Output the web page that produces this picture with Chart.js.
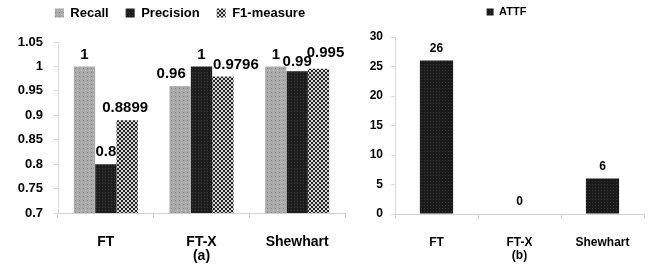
<!DOCTYPE html>
<html>
<head>
<meta charset="utf-8">
<script src="https://cdn.jsdelivr.net/npm/chart.js@4.4.1/dist/chart.umd.min.js"></script>
<style>
  html, body { margin: 0; padding: 0; background: #fff; }
  body { width: 654px; height: 272px; position: relative; overflow: hidden; }
  .panel { position: absolute; top: 0; }
</style>
</head>
<body>
<div class="panel" style="left:15px"><canvas id="metricsChart" width="351" height="272"></canvas></div>
<div class="panel" style="left:369px"><canvas id="attfChart" width="285" height="272"></canvas></div>
<script>
const methods = ['FT', 'FT-X', 'Shewhart'];
const recall = [1, 0.96, 1];
const precision = [0.8, 1, 0.99];
const f1Measure = [0.8899, 0.9796, 0.995];
const attf = [26, 0, 6];
const metricTicks = [0.7, 0.75, 0.8, 0.85, 0.9, 0.95, 1, 1.05];
const attfTicks = [0, 5, 10, 15, 20, 25, 30];

const fontFamily = '"Liberation Sans", Arial, sans-serif';
Chart.defaults.font.family = fontFamily;
Chart.defaults.color = '#000';

// small repeating tiles to imitate the printed bar textures
function makePattern(size, base, spots) {
  const tile = document.createElement('canvas');
  tile.width = tile.height = size;
  const g = tile.getContext('2d');
  g.fillStyle = base;
  g.fillRect(0, 0, size, size);
  spots.forEach(([x, y, w, h, color]) => {
    g.fillStyle = color;
    g.fillRect(x, y, w, h);
  });
  return g.createPattern(tile, 'repeat');
}

const recallFill = makePattern(4, '#aaaaaa', [[0, 0, 1, 1, '#858585'], [2, 2, 1, 1, '#c6c6c6']]);
const precisionFill = makePattern(3, '#1d1d1d', [[0, 0, 1, 1, '#3d3d3d']]);
const f1Fill = makePattern(4, '#262626', [[0, 0, 2, 2, '#d4d4d4'], [2, 2, 2, 2, '#d4d4d4']]);
const attfFill = makePattern(3, '#1a1a1a', [[1, 1, 1, 1, '#383838']]);

// value text above every bar
const valueLabels = {
  id: 'valueLabels',
  afterDatasetsDraw(chart, args, opts) {
    const ctx = chart.ctx;
    ctx.save();
    ctx.font = `bold ${opts.size}px ${fontFamily}`;
    ctx.fillStyle = '#000';
    ctx.textAlign = 'center';
    ctx.textBaseline = 'middle';
    chart.data.datasets.forEach((ds, i) => {
      chart.getDatasetMeta(i).data.forEach((bar, j) => {
        const nudge = (opts.nudge && opts.nudge[i] && opts.nudge[i][j]) || [0, 0];
        ctx.fillText(String(ds.data[j]), bar.x + nudge[0], bar.y - opts.gap + nudge[1]);
      });
    });
    ctx.restore();
  }
};

function axisLabels(caption) {
  return methods.map((m, i) => i === 1 ? [m, caption] : m);
}

new Chart(document.getElementById('metricsChart'), {
  type: 'bar',
  data: {
    labels: axisLabels('(a)'),
    datasets: [
      { label: 'Recall', data: recall, backgroundColor: recallFill },
      { label: 'Precision', data: precision, backgroundColor: precisionFill },
      { label: 'F1-measure', data: f1Measure, backgroundColor: f1Fill }
    ]
  },
  options: {
    responsive: false,
    animation: false,
    datasets: { bar: { borderWidth: 0, categoryPercentage: 0.67, barPercentage: 1 } },
    layout: { padding: { top: -10.5, left: 0, right: 21, bottom: 0 } },
    scales: {
      x: {
        afterFit: s => { s.height = 59; },
        border: { color: '#d0d0d0' },
        grid: { drawOnChartArea: false, color: '#d0d0d0', tickLength: 5 },
        ticks: { padding: 17, maxRotation: 0, font: { size: 14, weight: 'bold', lineHeight: 1 } }
      },
      y: {
        min: metricTicks[0],
        max: metricTicks[metricTicks.length - 1],
        afterBuildTicks: s => { s.ticks = metricTicks.map(v => ({ value: v })); },
        afterFit: s => { s.width = 43; },
        border: { color: '#d9d9d9' },
        grid: { drawOnChartArea: false, color: '#d9d9d9', tickLength: 4 },
        ticks: { padding: 11, font: { size: 13, weight: 'bold' }, callback: v => String(v) }
      }
    },
    plugins: {
      legend: {
        position: 'top',
        labels: { boxWidth: 9, boxHeight: 9, padding: 17, font: { size: 13, weight: 'bold' } }
      },
      subtitle: { display: true, text: '', weight: 500, padding: 0, font: { size: 10, lineHeight: 1.25 } },
      tooltip: { enabled: false },
      valueLabels: {
        size: 15,
        gap: 12,
        nudge: [[[0, 0], [-9, 0], [0, 0]], [[0, 0], [0, 0], [0, 3]], [[-2, 0], [13, 0], [7, -4]]]
      }
    }
  },
  plugins: [valueLabels]
});

new Chart(document.getElementById('attfChart'), {
  type: 'bar',
  data: {
    labels: axisLabels('(b)'),
    datasets: [
      { label: 'ATTF', data: attf, backgroundColor: attfFill }
    ]
  },
  options: {
    responsive: false,
    animation: false,
    datasets: { bar: { borderWidth: 0, categoryPercentage: 0.4, barPercentage: 1 } },
    layout: { padding: { top: -10.5, left: 0, right: 10, bottom: 0 } },
    scales: {
      x: {
        afterFit: s => { s.height = 58; },
        border: { color: '#d0d0d0' },
        grid: { drawOnChartArea: false, color: '#d0d0d0', tickLength: 5 },
        ticks: { padding: 17, maxRotation: 0, font: { size: 12, weight: 'bold', lineHeight: 1.1 } }
      },
      y: {
        min: attfTicks[0],
        max: attfTicks[attfTicks.length - 1],
        afterBuildTicks: s => { s.ticks = attfTicks.map(v => ({ value: v })); },
        afterFit: s => { s.width = 26; },
        border: { color: '#d9d9d9' },
        grid: { drawOnChartArea: false, color: '#d9d9d9', tickLength: 4 },
        ticks: { padding: 8, font: { size: 12, weight: 'bold' }, callback: v => String(v) }
      }
    },
    plugins: {
      legend: {
        position: 'top',
        labels: { boxWidth: 7, boxHeight: 7, padding: 17, font: { size: 11, weight: 'bold' } }
      },
      subtitle: { display: true, text: '', weight: 500, padding: 0, font: { size: 10, lineHeight: 0.95 } },
      tooltip: { enabled: false },
      valueLabels: { size: 12, gap: 12 }
    }
  },
  plugins: [valueLabels]
});
</script>
</body>
</html>
